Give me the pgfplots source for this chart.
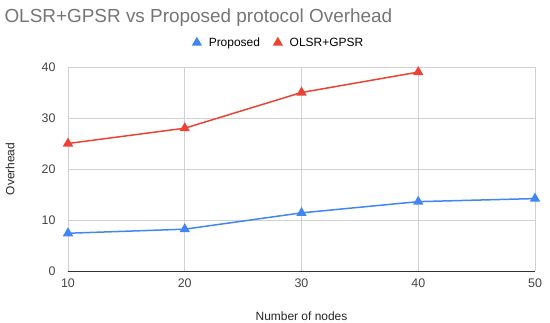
\documentclass[border=0pt]{standalone}
\usepackage{pgfplots}
\pgfplotsset{compat=1.18}
\usepackage{fontspec}
\setmainfont{Liberation Sans}
\definecolor{gblue}{HTML}{4285F4}
\definecolor{gred}{HTML}{EA4335}
\definecolor{ttl}{HTML}{757575}
\definecolor{tck}{HTML}{444444}
\definecolor{grd}{HTML}{D0D0D0}
\begin{document}
\begin{tikzpicture}
\path[use as bounding box] (-68bp,-52bp) rectangle (482bp,271bp);
\begin{axis}[
  scale only axis,
  width=467bp, height=204bp,
  xmin=10, xmax=50, ymin=0, ymax=40,
  xtick={10,20,30,40,50}, ytick={0,10,20,30,40},
  grid=major,
  major grid style={grd, line width=0.8bp},
  axis line style={draw=none},
  tick style={draw=none},
  ticklabel style={font=\fontsize{12.5}{14}\selectfont, text=tck},
  /pgf/number format/assume math mode=true,
  xticklabel style={yshift=-4bp},
  yticklabel style={xshift=-9bp},
  xlabel={Number of nodes},
  ylabel={Overhead},
  every axis x label/.style={at={(axis description cs:0.5,0)}, anchor=north, yshift=-37bp, font=\fontsize{12}{14}\selectfont, text=black!85},
  every axis y label/.style={at={(axis description cs:0,0.5)}, rotate=90, anchor=south, yshift=50bp, font=\fontsize{12}{14}\selectfont, text=black!85},
  legend style={draw=none, at={(0.452,1.0)}, anchor=south, yshift=15bp,
    font=\fontsize{12}{14}\selectfont, legend columns=2,
    /tikz/every even column/.append style={column sep=12bp}},
  legend image code/.code={\draw plot coordinates {(0bp,0bp)};},
  legend cell align=left,
  clip=false,
]
\draw[black!80, line width=1bp] (axis cs:10,0) -- (axis cs:50,0);
\addplot[gblue, line width=1.5bp, mark=triangle*, mark size=4.5bp, mark options={solid}]
  coordinates {(10,7.4) (20,8.2) (30,11.4) (40,13.6) (50,14.2)};
\addlegendentry{\hspace{6bp}Proposed}
\addplot[gred, line width=1.5bp, mark=triangle*, mark size=4.5bp, mark options={solid}]
  coordinates {(10,25) (20,28) (30,35) (40,39)};
\addlegendentry{\hspace{6bp}OLSR+GPSR}
\end{axis}
\node[anchor=west, text=ttl, font=\fontsize{19}{22}\selectfont] at (-67bp,253bp) {OLSR+GPSR vs Proposed protocol Overhead};
\end{tikzpicture}
\end{document}
